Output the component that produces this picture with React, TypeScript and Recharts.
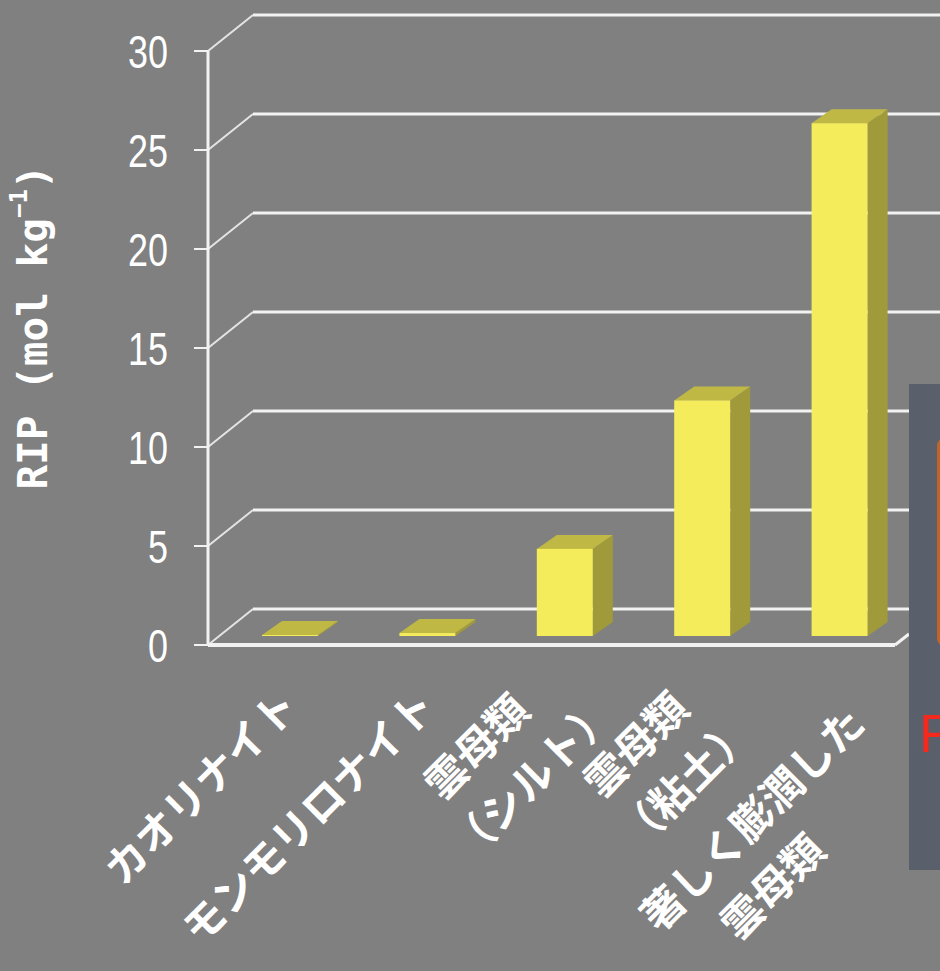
import React from "react";
import { BarChart, Bar, XAxis, YAxis, CartesianGrid } from "recharts";

// RIP by clay mineral
const categories = [
  "カオリナイト",
  "モンモリロナイト",
  "雲母類\n（シルト）",
  "雲母類\n（粘土）",
  "著しく膨潤した\n雲母類",
];
const ripValues = [0.05, 0.15, 4.4, 11.9, 25.9];
const yTicks = [0, 5, 10, 15, 20, 25, 30];

const data = categories.map((name, i) => ({ name, rip: ripValues[i] }));

const W = 940;
const H = 971;

// pseudo 3D offsets
const WALL_DX = 45;
const WALL_DY = 36;
const BAR_DX = 13;
const BAR_DY = 9;
const DEPTH_DX = 20;
const DEPTH_DY = 14;

const GRID = "#f2f2f2";
const WHITE = "#ffffff";

function WallLine(props: any) {
  const { x1, y1, x2 } = props;
  const bx = x1 + WALL_DX;
  const by = y1 - WALL_DY;
  return (
    <g>
      <line x1={x1} y1={y1} x2={bx} y2={by} stroke="#e4e4e4" strokeWidth={2} />
      <line x1={bx} y1={by} x2={W} y2={by} stroke={GRID} strokeWidth={3} />
      {y1 > 600 && (
        <line x1={x2} y1={y1} x2={x2 + 14} y2={y1 - 11} stroke={GRID} strokeWidth={3} />
      )}
    </g>
  );
}

function Bar3D(props: any) {
  const { x, y, width, height } = props;
  const fx = x + BAR_DX;
  const fy = y - BAR_DY;
  const h = Math.max(height, 0.8);
  const top = `${fx},${fy} ${fx + width},${fy} ${fx + width + DEPTH_DX},${fy - DEPTH_DY} ${fx + DEPTH_DX},${fy - DEPTH_DY}`;
  const side = `${fx + width},${fy} ${fx + width + DEPTH_DX},${fy - DEPTH_DY} ${fx + width + DEPTH_DX},${fy + h - DEPTH_DY} ${fx + width},${fy + h}`;
  return (
    <g>
      <polygon points={side} fill="#a09a3a" />
      <polygon points={top} fill="#bfb845" />
      <rect x={fx} y={fy} width={width} height={h} fill="#f4ec5a" />
    </g>
  );
}

const PITCH = 42;
const LINE_GAP = 62;

// rotated, multi-line category label
function CategoryTick(props: any) {
  const { x, y, payload } = props;
  const lines = String(payload.value).split("\n");
  const l1 = lines[0].length;
  const l2 = lines.length > 1 ? lines[1].length : l1;
  const end1 = -34 - 0.4 * Math.max(0, l2 - l1) * PITCH;
  const end2 = end1 + 0.7 * (l2 - l1) * PITCH;
  const v1 = 31 - 14 * Math.max(0, l2 - l1) + 6 * Math.max(0, l1 - l2);
  return (
    <g transform={`translate(${x + BAR_DX},${y}) rotate(-45)`}>
      {lines.map((line, i) => {
        const end = i === 0 ? end1 : end2;
        return (
          <text
            key={i}
            x={end - (line.length * PITCH) / 2}
            y={v1 + i * LINE_GAP}
            textAnchor="middle"
            dominantBaseline="central"
            fill={WHITE}
            fontSize={42}
            fontWeight="bold"
            fontFamily="'Noto Sans CJK JP', sans-serif"
          >
            {line}
          </text>
        );
      })}
    </g>
  );
}

function ValueTick(props: any) {
  const { x, y, payload } = props;
  const s = String(payload.value);
  return (
    <text
      x={x}
      y={y}
      textAnchor="end"
      dominantBaseline="central"
      fill={WHITE}
      fontSize={47}
      fontFamily="'Liberation Sans', Arial, sans-serif"
      textLength={s.length * 20}
      lengthAdjust="spacingAndGlyphs"
    >
      {s}
    </text>
  );
}

function YTitle(props: any) {
  const vb = props.viewBox || { x: 0, y: 51, width: 208, height: 594 };
  const cx = vb.x + 33;
  const cy = vb.y + vb.height / 2 - 21;
  return (
    <text
      x={cx}
      y={cy}
      transform={`rotate(-90 ${cx} ${cy})`}
      textAnchor="middle"
      dominantBaseline="central"
      fill={WHITE}
      fontSize={41}
      fontWeight="bold"
      fontFamily="'DejaVu Sans Mono', monospace"
    >
      RIP (mol kg
      <tspan dy={-14} fontSize={24}>
        −1
      </tspan>
      <tspan dy={14}>)</tspan>
    </text>
  );
}

export default function App() {
  return (
    <div
      style={{
        position: "absolute",
        left: 0,
        top: 0,
        width: W,
        height: H,
        background: "#808080",
        overflow: "hidden",
      }}
    >
      <BarChart
        width={W}
        height={H}
        data={data}
        margin={{ top: 51, right: 45, left: 0, bottom: 0 }}
      >
        <CartesianGrid vertical={false} horizontal={(p: any) => <WallLine {...p} />} />
        <XAxis
          dataKey="name"
          interval={0}
          height={326}
          tickLine={false}
          tickSize={0}
          tickMargin={5}
          axisLine={{ stroke: GRID, strokeWidth: 4 }}
          tick={(p: any) => <CategoryTick {...p} />}
        />
        <YAxis
          width={208}
          domain={[0, 30]}
          ticks={yTicks}
          interval={0}
          tickSize={14}
          tickMargin={26}
          axisLine={{ stroke: GRID, strokeWidth: 3 }}
          tickLine={{ stroke: GRID, strokeWidth: 2 }}
          tick={(p: any) => <ValueTick {...p} />}
          label={(p: any) => <YTitle {...p} />}
        />
        <Bar dataKey="rip" barSize={56} shape={(p: any) => <Bar3D {...p} />} isAnimationActive={false} />
      </BarChart>

      <div
        style={{
          position: "absolute",
          left: 909,
          top: 384,
          width: 40,
          height: 486,
          background: "#5a606b",
        }}
      >
        <div
          style={{
            position: "absolute",
            left: 28,
            top: 53,
            width: 20,
            height: 210,
            borderRadius: 9,
            background: "#c0652a",
          }}
        />
        <div
          style={{
            position: "absolute",
            left: 10,
            top: 322,
            fontSize: 54,
            lineHeight: "54px",
            color: "#f2291c",
            fontFamily: "'Liberation Sans', Arial, sans-serif",
          }}
        >
          F
        </div>
      </div>
    </div>
  );
}
